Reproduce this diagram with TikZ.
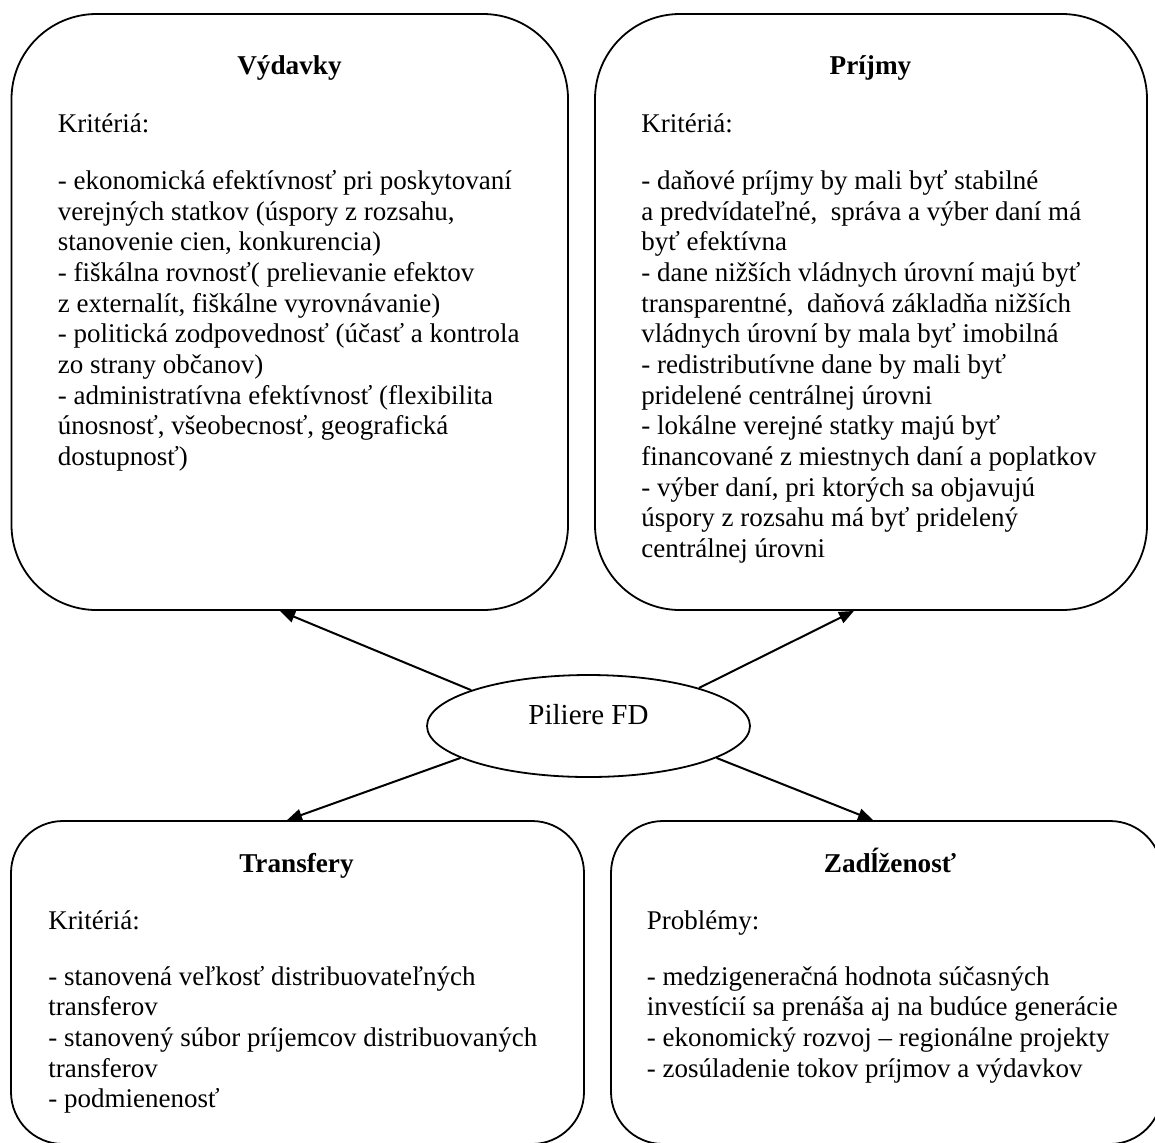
\documentclass[tikz,border=0pt]{standalone}
\usepackage{fontspec}
\setmainfont{Liberation Serif}
\usetikzlibrary{shapes.geometric,arrows.meta}
\begin{document}
\begin{tikzpicture}[x=0.5pt,y=-0.5pt,
  pillar/.style={draw, line width=0.9pt, inner sep=0pt},
  titletext/.style={anchor=base, inner sep=0pt, font=\fontsize{13.6pt}{15.33pt}\selectfont\bfseries},
  bodytext/.style={anchor=base west, inner sep=0pt, font=\fontsize{13.5pt}{15.33pt}\selectfont},
  arr/.style={line width=1pt, -{Triangle[length=7.5pt,width=6pt]}}]
\clip (0,0) rectangle (1155,1142);
% boxes
\node[pillar, rounded corners=42.5pt, minimum width=278.25pt, minimum height=298pt] (vyd) at (289.75,312) {};
\node[pillar, rounded corners=42.5pt, minimum width=276pt, minimum height=298pt] (prj) at (871,312) {};
\node[pillar, rounded corners=26pt, minimum width=286.5pt, minimum height=161.5pt] (trn) at (297.5,982.5) {};
\node[pillar, rounded corners=26pt, minimum width=275.5pt, minimum height=161.5pt] (zad) at (886.5,982.5) {};
% titles
\node[titletext] (vydT) at (289.5,74) {Výdavky};
\node[titletext] (prjT) at (870.5,74) {Príjmy};
\node[titletext] (trnT) at (296.5,872) {Transfery};
\node[titletext] (zadT) at (890,872) {Zadĺženosť};
% bodies
\node[bodytext] (vydB) at (57.5,132) {\parbox[t]{290pt}{\raggedright
Kritériá:\\[13.5pt]
- ekonomická efektívnosť pri poskytovaní\\
verejných statkov (úspory z rozsahu,\\
stanovenie cien, konkurencia)\\
- fiškálna rovnosť( prelievanie efektov\\
z externalít, fiškálne vyrovnávanie)\\
- politická zodpovednosť (účasť a kontrola\\
zo strany občanov)\\
- administratívna efektívnosť (flexibilita\\
únosnosť, všeobecnosť, geografická\\
dostupnosť)}};
\node[bodytext] (prjB) at (641,132) {\parbox[t]{290pt}{\raggedright
Kritériá:\\[13.5pt]
- daňové príjmy by mali byť stabilné\\
a predvídateľné,~ správa a výber daní má\\
byť efektívna\\
- dane nižších vládnych úrovní majú byť\\
transparentné,~ daňová základňa nižších\\
vládnych úrovní by mala byť imobilná\\
- redistributívne dane by mali byť\\
pridelené centrálnej úrovni\\
- lokálne verejné statky majú byť\\
financované z miestnych daní a poplatkov\\
- výber daní, pri ktorých sa objavujú\\
úspory z rozsahu má byť pridelený\\
centrálnej úrovni}};
\node[bodytext] (trnB) at (48,929) {\parbox[t]{290pt}{\raggedright
Kritériá:\\[12.8pt]
- stanovená veľkosť distribuovateľných\\
transferov\\
- stanovený súbor príjemcov distribuovaných\\
transferov\\
- podmienenosť}};
\node[bodytext] (zadB) at (646.5,929) {\parbox[t]{290pt}{\raggedright
Problémy:\\[12.8pt]
- medzigeneračná hodnota súčasných\\
investícií sa prenáša aj na budúce generácie\\
- ekonomický rozvoj – regionálne projekty\\
- zosúladenie tokov príjmov a výdavkov}};
% centre
\node[ellipse, draw, line width=0.9pt, minimum width=161.5pt, minimum height=51pt, inner sep=0pt,
  text height=1pt, text depth=3pt, font=\fontsize{14.5pt}{17pt}\selectfont] (fd) at (588.5,726) {Piliere FD};
% arrows
\coordinate (x1) at (280,0);
\coordinate (x2) at (854,0);
\coordinate (x3) at (287,0);
\coordinate (x4) at (873,0);
\draw[arr] (fd.163) -- (vyd.south -| x1);
\draw[arr] (fd.19) -- (prj.south -| x2);
\draw[arr] (fd.194) -- (trn.north -| x3);
\draw[arr] (fd.-14) -- (zad.north -| x4);
\end{tikzpicture}
\end{document}
